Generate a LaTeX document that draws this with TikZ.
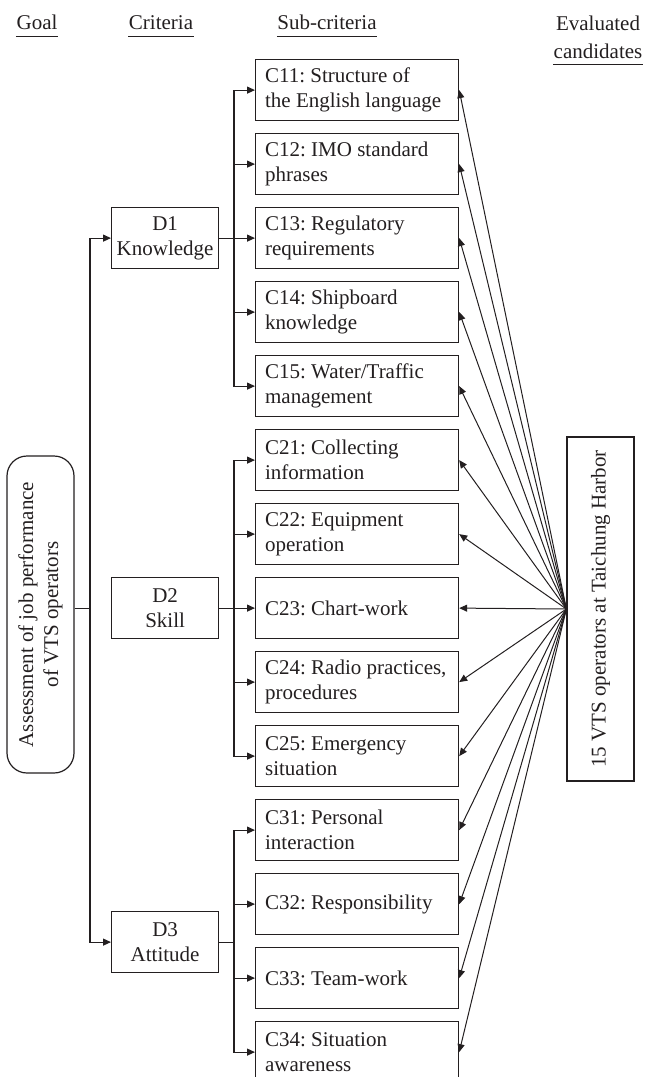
\documentclass[tikz,border=0pt]{standalone}
\usepackage{fontspec}
\setmainfont{Liberation Serif}
\usetikzlibrary{arrows.meta}
\definecolor{ink}{HTML}{231F20}
\frenchspacing
\begin{document}
\begin{tikzpicture}[x=1pt,y=-1pt,color=ink,line width=1.2pt,
  font=\fontsize{21}{25}\selectfont,
  subbox/.style={draw,rectangle,anchor=north west,text width=184pt,align=flush left,
    inner xsep=9.5pt,inner ysep=0pt,minimum height=61pt},
  critbox/.style={draw,rectangle,anchor=north west,minimum width=107pt,
    minimum height=61pt,align=center,inner sep=0pt},
  hd/.style={inner sep=0pt,anchor=base},
  arr/.style={-{Triangle[length=8pt,width=7pt]}},
  uline/.style={line width=0.9pt}]
\useasboundingbox (0,0) rectangle (645,1077);

% headers
\node[hd] (hgoal) at (37,29) {Goal};
\node[hd] (hcrit) at (161,29) {Criteria};
\node[hd] (hsub) at (327,29) {Sub-criteria};
\node[hd,align=center] (heval) at (598,58) {Evaluated\\[3pt]candidates};
\draw[uline] ([yshift=-7pt]hgoal.base west) -- ([yshift=-7pt]hgoal.base east);
\draw[uline] ([yshift=-7pt]hcrit.base west) -- ([yshift=-7pt]hcrit.base east);
\draw[uline] ([yshift=-7pt]hsub.base west) -- ([yshift=-7pt]hsub.base east);
\draw[uline] ([yshift=-6pt]heval.south west) -- ([yshift=-6pt]heval.south east);

% goal
\node[draw,rounded corners=20pt,rotate=90,minimum width=317pt,minimum height=67pt,
  align=center,inner sep=0pt] (goal) at (40.5,614.5)
  {Assessment of job performance\\of VTS operators};

% candidates
\node[draw,rotate=90,minimum width=344pt,minimum height=67pt,inner sep=0pt]
  (vts) at (600.5,609) {15 VTS operators at Taichung Harbor};

% criteria
\node[critbox] (d1) at (111,207) {D1\\Knowledge};
\node[critbox] (d2) at (111,577) {D2\\Skill};
\node[critbox] (d3) at (111,911) {D3\\Attitude};

% sub-criteria
\node[subbox] (c11) at (255,59)  {C11: Structure of\\the English language};
\node[subbox] (c12) at (255,133) {C12: IMO standard\\phrases};
\node[subbox] (c13) at (255,207) {C13: Regulatory\\requirements};
\node[subbox] (c14) at (255,281) {C14: Shipboard\\knowledge};
\node[subbox] (c15) at (255,355) {C15: Water/Traffic\\management};
\node[subbox] (c21) at (255,429) {C21: Collecting\\information};
\node[subbox] (c22) at (255,503) {C22: Equipment\\operation};
\node[subbox] (c23) at (255,577) {C23: Chart-work};
\node[subbox] (c24) at (255,651) {C24: Radio practices,\\procedures};
\node[subbox] (c25) at (255,725) {C25: Emergency\\situation};
\node[subbox] (c31) at (255,799) {C31: Personal\\interaction};
\node[subbox] (c32) at (255,873) {C32: Responsibility};
\node[subbox] (c33) at (255,947) {C33: Team-work};
\node[subbox] (c34) at (255,1021) {C34: Situation\\awareness};

\coordinate (gx) at (90,0);
\coordinate (bx) at (234,0);

% goal to criteria
\draw[arr] (goal.south |- d2.west) -- (gx |- d2.west) |- (d1.west);
\draw[arr] (goal.south |- d2.west) -- (gx |- d2.west) |- (d3.west);

% criteria to sub-criteria
\foreach \c in {c11,c12,c13,c14,c15}
  \draw[arr] (d1.east) -- (d1.east -| bx) |- (\c.west);
\foreach \c in {c21,c22,c23,c24,c25}
  \draw[arr] (d2.east) -- (d2.east -| bx) |- (\c.west);
\foreach \c in {c31,c32,c33,c34}
  \draw[arr] (d3.east) -- (d3.east -| bx) |- (\c.west);

% candidates to sub-criteria
\foreach \c in {c11,c12,c13,c14,c15,c21,c22,c23,c24,c25,c31,c32,c33,c34}
  \draw[arr,line width=1pt] (vts.north) -- (\c.east);
\end{tikzpicture}
\end{document}
